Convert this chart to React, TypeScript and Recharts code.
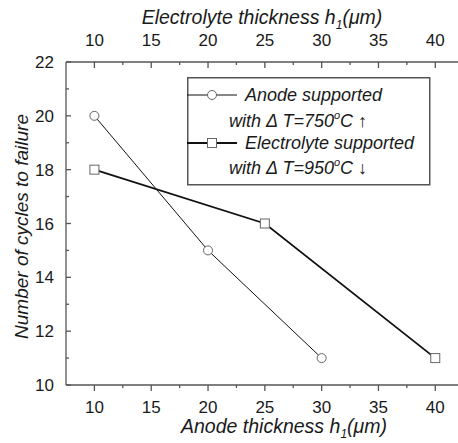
import React from "react"
import { LineChart, Line, XAxis, YAxis, Legend } from "recharts"

// thickness (μm) vs cycles to failure
const anodeThickness = [10, 20, 30]
const anodeCycles = [20, 15, 11]
const electrolyteThickness = [10, 25, 40]
const electrolyteCycles = [18, 16, 11]

const xTicks = [10, 12.5, 15, 17.5, 20, 22.5, 25, 27.5, 30, 32.5, 35, 37.5, 40]
const xLabels = [10, 15, 20, 25, 30, 35, 40]
const yTicks = [10, 11, 12, 13, 14, 15, 16, 17, 18, 19, 20, 21, 22]
const yLabels = [10, 12, 14, 16, 18, 20, 22]

const anodeData = anodeThickness.map((x, i) => ({ x, y: anodeCycles[i] }))
const electrolyteData = electrolyteThickness.map((x, i) => ({ x, y: electrolyteCycles[i] }))

const font = '"Liberation Sans", Arial, Helvetica, sans-serif'
const axisColor = "#555"
const textColor = "#1a1a1a"
const markerColor = "#666"

function BottomTick(props: any) {
  const { x, y, payload } = props
  const major = xLabels.includes(payload.value)
  return (
    <g>
      <line x1={x} x2={x} y1={y} y2={y + (major ? 6 : 3)} stroke={axisColor} strokeWidth={1.3} />
      {major && (
        <text x={x} y={y + 28} textAnchor="middle" fontSize={17} fill={textColor} fontFamily={font}>
          {payload.value}
        </text>
      )}
    </g>
  )
}

function TopTick(props: any) {
  const { x, y, payload } = props
  const major = xLabels.includes(payload.value)
  return (
    <g>
      <line x1={x} x2={x} y1={y} y2={y + (major ? 6 : 3)} stroke={axisColor} strokeWidth={1.3} />
      {major && (
        <text x={x} y={y - 16} textAnchor="middle" fontSize={17} fill={textColor} fontFamily={font}>
          {payload.value}
        </text>
      )}
    </g>
  )
}

function LeftTick(props: any) {
  const { x, y, payload } = props
  const major = yLabels.includes(payload.value)
  return (
    <g>
      <line x1={x} x2={x + (major ? 5 : 3)} y1={y} y2={y} stroke={axisColor} strokeWidth={1.3} />
      {major && (
        <text x={x - 12} y={y + 6} textAnchor="end" fontSize={17} fill={textColor} fontFamily={font}>
          {payload.value}
        </text>
      )}
    </g>
  )
}

const titleStyle = { fontSize: 19.5, fontStyle: "italic" as const, fill: textColor, fontFamily: font }

function TopTitle(props: any) {
  const vb = props.viewBox
  return (
    <text x={vb.x + vb.width / 2} y={vb.y + 24} textAnchor="middle" {...titleStyle}>
      Electrolyte thickness h<tspan fontSize={12} dy={5}>1</tspan>
      <tspan dy={-5}>(μm)</tspan>
    </text>
  )
}

function BottomTitle(props: any) {
  const vb = props.viewBox
  return (
    <text x={vb.x + vb.width / 2 + 22} y={vb.y + 48} textAnchor="middle" {...titleStyle}>
      Anode thickness h<tspan fontSize={12} dy={5}>1</tspan>
      <tspan dy={-5}>(μm)</tspan>
    </text>
  )
}

function LeftTitle(props: any) {
  const vb = props.viewBox
  const cx = vb.x + 28
  const cy = vb.y + vb.height / 2 + 3
  return (
    <text x={cx} y={cy} textAnchor="middle" transform={`rotate(-90 ${cx} ${cy})`} {...titleStyle} fontSize={19}>
      Number of cycles to failure
    </text>
  )
}

function SquareDot(props: any) {
  const { cx, cy, index } = props
  return <rect key={`sq-${index}`} x={cx - 4.5} y={cy - 4.5} width={9} height={9} fill="#fff" stroke={markerColor} strokeWidth={1} />
}

function CircleDot(props: any) {
  const { cx, cy, index } = props
  return <circle key={`ci-${index}`} cx={cx} cy={cy} r={4.5} fill="#fff" stroke={markerColor} strokeWidth={1} />
}

function LegendBox() {
  const t = { fontSize: 18, fontStyle: "italic" as const, fill: textColor, fontFamily: font }
  return (
    <svg width={244} height={109} style={{ display: "block" }}>
      <rect x={0.75} y={0.75} width={242} height={107} fill="#fff" stroke={axisColor} strokeWidth={1.5} />
      <line x1={0} x2={50} y1={18} y2={18} stroke="#111" strokeWidth={1} />
      <circle cx={25} cy={18} r={4.5} fill="#fff" stroke={markerColor} strokeWidth={1} />
      <text x={58} y={24} {...t}>Anode supported</text>
      <text x={42} y={50} {...t}>
        with Δ T=750<tspan fontSize={11} dy={-8}>o</tspan>
        <tspan dy={8}>C ↑</tspan>
      </text>
      <line x1={0} x2={50} y1={66} y2={66} stroke="#111" strokeWidth={1.8} />
      <rect x={20.5} y={61.5} width={9} height={9} fill="#fff" stroke={markerColor} strokeWidth={1} />
      <text x={58} y={72} {...t}>Electrolyte supported</text>
      <text x={42} y={97} {...t}>
        with Δ T=950<tspan fontSize={11} dy={-8}>o</tspan>
        <tspan dy={8}>C ↓</tspan>
      </text>
    </svg>
  )
}

export default function App() {
  return (
    <div style={{ position: "absolute", left: 0, top: 0, background: "#fff" }}>
      <LineChart width={458} height={443} margin={{ top: 0, right: 0, bottom: 0, left: 0 }}>
        <XAxis
          xAxisId="top"
          orientation="top"
          type="number"
          dataKey="x"
          domain={[7.5, 42]}
          allowDataOverflow
          ticks={xTicks}
          interval={0}
          height={62}
          tickSize={0}
          tickMargin={0}
          tickLine={false}
          axisLine={{ stroke: axisColor, strokeWidth: 1.3 }}
          tick={<TopTick />}
          label={{ content: <TopTitle /> }}
        />
        <XAxis
          xAxisId="bottom"
          orientation="bottom"
          type="number"
          dataKey="x"
          domain={[7.5, 42]}
          allowDataOverflow
          ticks={xTicks}
          interval={0}
          height={58}
          tickSize={0}
          tickMargin={0}
          tickLine={false}
          axisLine={{ stroke: axisColor, strokeWidth: 1.3 }}
          tick={<BottomTick />}
          label={{ content: <BottomTitle /> }}
        />
        <YAxis
          type="number"
          domain={[10, 22]}
          ticks={yTicks}
          interval={0}
          width={66}
          tickSize={0}
          tickMargin={0}
          tickLine={false}
          axisLine={{ stroke: axisColor, strokeWidth: 1.3 }}
          tick={<LeftTick />}
          label={{ content: <LeftTitle /> }}
        />
        <Legend
          layout="vertical"
          align="center"
          verticalAlign="middle"
          wrapperStyle={{ left: 187, top: 77, width: 244, height: 109 }}
          content={<LegendBox />}
        />
        <Line
          xAxisId="bottom"
          data={anodeData}
          dataKey="y"
          name="Anode supported"
          stroke="#111"
          strokeWidth={1}
          dot={<CircleDot />}
          activeDot={false}
          isAnimationActive={false}
        />
        <Line
          xAxisId="top"
          data={electrolyteData}
          dataKey="y"
          name="Electrolyte supported"
          stroke="#111"
          strokeWidth={1.8}
          dot={<SquareDot />}
          activeDot={false}
          isAnimationActive={false}
        />
      </LineChart>
    </div>
  )
}
